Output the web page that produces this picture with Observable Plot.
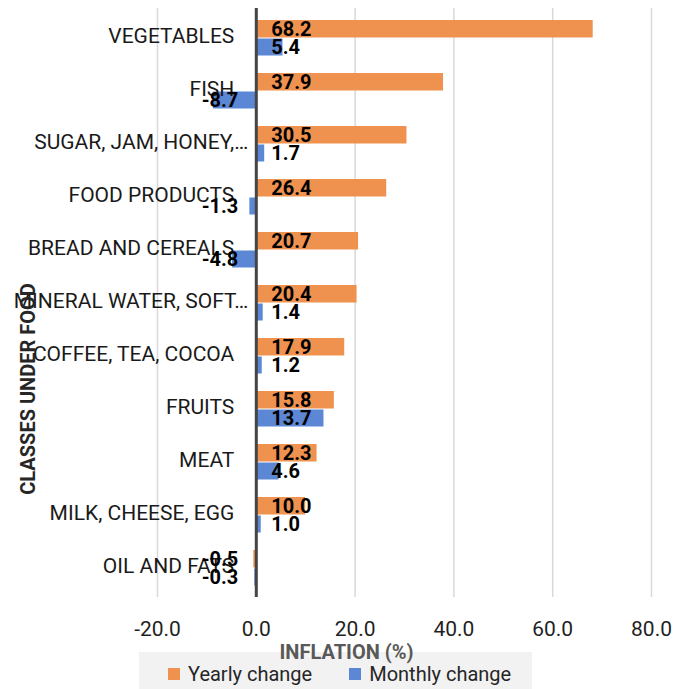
<!DOCTYPE html>
<html>
<head>
<meta charset="utf-8">
<script src="https://cdn.jsdelivr.net/npm/d3@7"></script>
<script src="https://cdn.jsdelivr.net/npm/@observablehq/plot@0.6"></script>
<style>
  body { margin: 0; background: #fff; font-family: Roboto, "Open Sans", sans-serif; }
  #chart { width: 673px; }
  .legend { position: relative; margin-left: 139px; margin-top: -8px; width: 393px; height: 37px; background: #f2f2f2; display: flex; align-items: center; padding-top: 6px; box-sizing: border-box; font-size: 20px; color: #262626; }
  .legend .item { display: flex; align-items: center; }
  .legend .sw { width: 12px; height: 12px; margin-right: 8px; }
</style>
</head>
<body>
<div id="chart"></div>
<script>
const categories = ["VEGETABLES", "FISH", "SUGAR, JAM, HONEY,…", "FOOD PRODUCTS", "BREAD AND CEREALS", "MINERAL WATER, SOFT…", "COFFEE, TEA, COCOA", "FRUITS", "MEAT", "MILK, CHEESE, EGG", "OIL AND FATS"];
const yearlyChange = [68.2, 37.9, 30.5, 26.4, 20.7, 20.4, 17.9, 15.8, 12.3, 10.0, -0.5];
const monthlyChange = [5.4, -8.7, 1.7, -1.3, -4.8, 1.4, 1.2, 13.7, 4.6, 1.0, -0.3];
const xTicks = [-20, 0, 20, 40, 60, 80];
const seriesNames = ["Yearly change", "Monthly change"];
const truncated = ["SUGAR, JAM, HONEY,…", "MINERAL WATER, SOFT…"];

const ORANGE = "#f0924f";
const BLUE = "#5b87d5";

const rows = categories.map((c, i) => ({category: c, yearly: yearlyChange[i], monthly: monthlyChange[i]}));
const fmt = v => v.toFixed(1);

const chart = Plot.plot({
  width: 673,
  height: 660,
  marginTop: 8,
  marginBottom: 63,
  marginLeft: 157,
  marginRight: 22,
  style: {fontFamily: "Roboto, sans-serif", fontSize: "20px", color: "#1f1f1f", background: "transparent", position: "relative", zIndex: 1, overflow: "visible"},
  x: {domain: [-20, 80]},
  y: {domain: categories, padding: 0, axis: null},
  marks: [
    Plot.gridX(xTicks.filter(t => t !== 0), {stroke: "#d9d9d9", strokeOpacity: 1, strokeWidth: 1.5}),
    Plot.barX(rows, {x: "yearly", y: "category", fill: ORANGE, insetTop: 9, insetBottom: 26.5}),
    Plot.barX(rows, {x: "monthly", y: "category", fill: BLUE, insetTop: 27.5, insetBottom: 8.5}),
    Plot.ruleX([0], {stroke: "#454545", strokeWidth: 3}),
    Plot.axisX(xTicks, {tickSize: 0, tickPadding: 24, tickFormat: fmt, fontSize: 21, label: null}),
    Plot.text(categories, {filter: d => !truncated.includes(d), x: 0, y: d => d, text: d => d, textAnchor: "end", dx: -22, dy: -2, fontSize: 21, fill: "#1a1a1a"}),
    Plot.text(categories, {filter: d => truncated.includes(d), x: 0, y: d => d, text: d => d, textAnchor: "end", dx: -8, dy: -2, fontSize: 21, fill: "#1a1a1a"}),
    Plot.text(rows, {filter: d => d.yearly >= 0, x: 0, y: "category", text: d => fmt(d.yearly), textAnchor: "start", dx: 15, dy: -8.5, fontSize: 20, fontWeight: "bold", fill: "#000"}),
    Plot.text(rows, {filter: d => d.yearly < 0, x: 0, y: "category", text: d => fmt(d.yearly), textAnchor: "end", dx: -18, dy: -8.5, fontSize: 20, fontWeight: "bold", fill: "#000"}),
    Plot.text(rows, {filter: d => d.monthly >= 0, x: 0, y: "category", text: d => fmt(d.monthly), textAnchor: "start", dx: 15, dy: 10, fontSize: 20, fontWeight: "bold", fill: "#000"}),
    Plot.text(rows, {filter: d => d.monthly < 0, x: 0, y: "category", text: d => fmt(d.monthly), textAnchor: "end", dx: -18, dy: 10, fontSize: 20, fontWeight: "bold", fill: "#000"}),
    Plot.text(["INFLATION (%)"], {frameAnchor: "bottom", text: d => d, textAnchor: "middle", lineAnchor: "middle", dx: -58, dy: 55, fontSize: 20, fontWeight: "bold", fill: "#595959"}),
    Plot.text(["CLASSES UNDER FOOD"], {frameAnchor: "left", text: d => d, textAnchor: "middle", lineAnchor: "middle", rotate: -90, dx: -129, dy: 86, fontSize: 20, fontWeight: "bold", fill: "#262626"})
  ]
});
document.getElementById("chart").appendChild(chart);

const legend = document.createElement("div");
legend.className = "legend";
const colors = [ORANGE, BLUE];
const pads = [29, 37];
seriesNames.forEach((name, i) => {
  const item = document.createElement("div");
  item.className = "item";
  item.style.marginLeft = pads[i] + "px";
  const sw = document.createElement("span");
  sw.className = "sw";
  sw.style.background = colors[i];
  const label = document.createElement("span");
  label.textContent = name;
  item.appendChild(sw);
  item.appendChild(label);
  legend.appendChild(item);
});
document.getElementById("chart").appendChild(legend);
</script>
</body>
</html>
